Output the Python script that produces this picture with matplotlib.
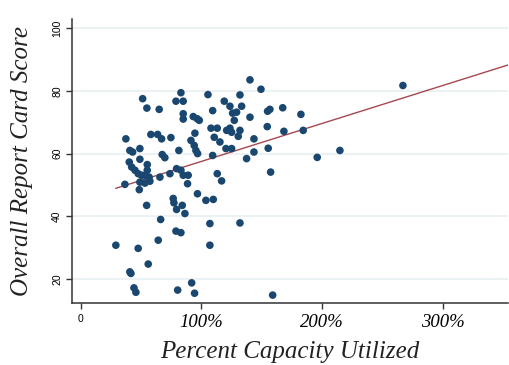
import numpy as np
import matplotlib
matplotlib.use('Agg')
from matplotlib import pyplot as plt

# percent capacity utilized (1.0 = 100%) and report card score
capacity = [0.514, 0.549, 0.651, 0.831, 0.790, 0.850, 0.850, 0.850, 0.933, 0.966,
            0.983, 1.055, 0.375, 0.582, 0.638, 0.671, 0.748, 0.947, 0.914, 0.941,
            0.955, 0.969, 0.408, 0.431, 0.491, 0.491, 0.676, 0.698, 0.814, 0.403,
            0.423, 0.450, 0.477, 0.505, 0.552, 0.552, 0.533, 0.568, 0.657, 0.740,
            0.795, 0.831, 0.850, 0.891, 0.886, 0.367, 0.491, 0.533, 0.574, 0.486,
            0.968, 1.038, 1.099, 0.767, 0.773, 0.842, 0.795, 0.864, 0.547, 0.663,
            0.790, 0.831, 1.071, 0.292, 0.477, 0.643, 1.071, 0.560, 0.408, 0.417,
            0.442, 0.458, 0.804, 0.920, 0.944, 1.591, 1.403, 1.494, 1.320, 1.190,
            1.237, 1.334, 1.292, 1.259, 1.094, 1.568, 1.549, 1.674, 1.825, 1.403,
            1.273, 1.546, 1.080, 1.132, 1.237, 1.210, 1.251, 1.320, 1.684, 1.844,
            1.107, 1.306, 1.154, 1.436, 1.204, 1.251, 1.554, 1.436, 1.094, 1.375,
            2.148, 1.960, 1.132, 1.168, 1.574, 1.320, 2.670]
score = [77.5, 74.5, 74.1, 79.4, 76.7, 76.7, 72.7, 71.0, 71.8, 71.1,
         70.6, 78.8, 64.7, 66.1, 66.1, 64.7, 65.1, 66.5, 64.2, 62.6,
         61.0, 60.0, 61.0, 60.5, 61.6, 58.2, 59.7, 58.7, 61.0, 57.3,
         55.7, 54.7, 53.6, 53.1, 56.5, 54.7, 53.1, 52.5, 52.5, 53.6,
         55.2, 54.7, 53.1, 53.1, 50.4, 50.2, 50.9, 50.6, 51.2, 48.5,
         47.2, 45.1, 45.4, 45.7, 44.3, 43.5, 42.2, 40.9, 43.5, 39.0,
         35.3, 34.8, 37.7, 30.8, 29.8, 32.4, 30.8, 24.8, 22.3, 21.8,
         17.2, 15.8, 16.5, 18.8, 15.5, 14.9, 83.5, 80.5, 78.7, 76.7,
         75.1, 75.1, 73.2, 72.9, 73.7, 74.1, 73.5, 74.6, 72.5, 71.6,
         70.6, 68.6, 68.1, 68.1, 68.1, 67.4, 66.8, 67.4, 67.1, 67.4,
         65.2, 65.5, 63.7, 64.7, 61.6, 61.6, 61.7, 60.5, 59.4, 58.4,
         61.0, 58.8, 53.6, 51.3, 54.1, 37.9, 81.7]

# fitted line
FIT_INTERCEPT = 45.4
FIT_SLOPE = 12.1

XTICKS = [0, 1, 2, 3]
XTICKLABELS = ['0', '100%', '200%', '300%']
YTICKS = [20, 40, 60, 80, 100]

NAVY = '#1a476f'
MAROON = '#a8474f'
SERIF = ['Liberation Serif', 'DejaVu Serif']
SANS = ['Liberation Sans', 'DejaVu Sans']

fig = plt.figure(figsize=(5.1, 3.65), dpi=100)
ax = fig.add_axes([0.141, 0.170, 0.855, 0.778])

xmin, xmax = -0.072, 3.54
ax.set_xlim(xmin, xmax)
ax.set_ylim(12.4, 102.9)

# light horizontal grid like stata s2color
for yv in YTICKS:
    ax.axhline(yv, color='#e8f0f2', lw=1.2, zorder=0)

x = np.array(capacity)
y = np.array(score)
ax.scatter(x, y, s=30, color=NAVY, edgecolors='none', zorder=3)

# linear fit, from smallest x out to the right edge
xs = np.array([x.min(), xmax])
ax.plot(xs, FIT_INTERCEPT + FIT_SLOPE * xs, color=MAROON, lw=1.0, zorder=2)

for s in ['top', 'right']:
    ax.spines[s].set_visible(False)
for s in ['left', 'bottom']:
    ax.spines[s].set_color('#333333')
    ax.spines[s].set_linewidth(1.1)

ax.set_xticks(XTICKS)
ax.set_xticklabels(XTICKLABELS)
for i, lbl in enumerate(ax.get_xticklabels()):
    if i == 0:
        lbl.set_family(SANS)
        lbl.set_fontsize(7.5)
    else:
        lbl.set_family(SERIF)
        lbl.set_style('italic')
        lbl.set_fontsize(13.5)
ax.set_yticks(YTICKS)
ax.set_yticklabels([str(v) for v in YTICKS], rotation=90, va='center',
                   family=SANS, fontsize=7.5)
ax.tick_params(direction='out', length=4, width=1, color='#333333', pad=3)
ax.tick_params(axis='x', pad=4)

ax.set_xlabel('Percent Capacity Utilized', family=SERIF, style='italic', fontsize=18,
              color='#222222', labelpad=7)
ax.set_ylabel('Overall Report Card Score', family=SERIF, style='italic', fontsize=18,
              color='#222222', labelpad=14)

fig.savefig('out.png', dpi=100)
